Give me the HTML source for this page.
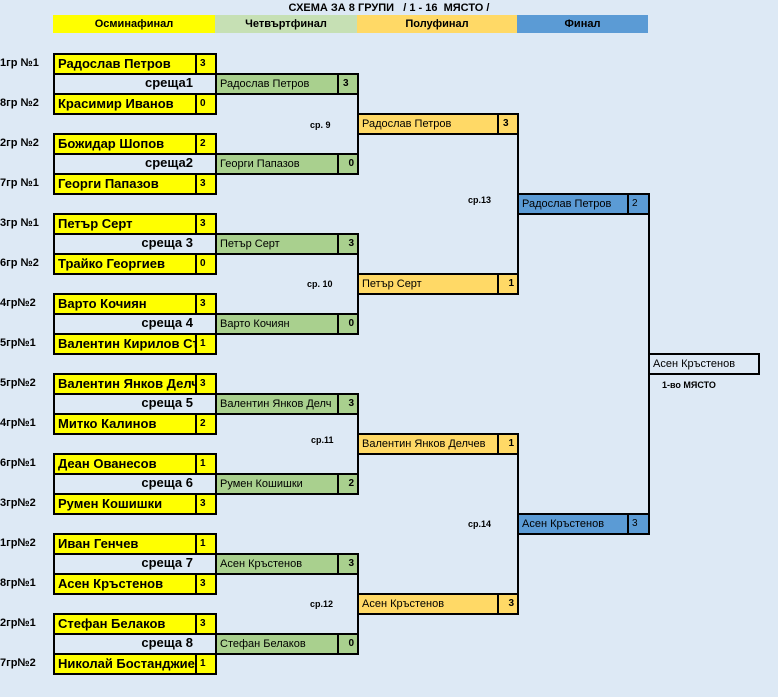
<!DOCTYPE html>
<html><head><meta charset="utf-8"><style>
html,body{margin:0;padding:0}
body{width:778px;height:697px;background:#dde9f5;position:relative;overflow:hidden;font-family:"Liberation Sans",Arial,sans-serif;}
.a{position:absolute;box-sizing:border-box}
.t{white-space:nowrap;overflow:hidden;line-height:18px}
.title{left:0;width:778px;top:1px;text-align:center;font-weight:bold;font-size:11px;line-height:14px}
.hd{top:15px;height:18px;font-weight:bold;font-size:11px;line-height:18px;text-align:center}
.lab{font-weight:bold;font-size:11px;left:3px;line-height:20px;height:20px}
.yn{background:#ffff00;border:2px solid #000;font-weight:bold;font-size:13px;padding-left:3px}
.ys{background:#ffff00;border:2px solid #000;border-left:none;font-weight:bold;font-size:10px;padding-left:3px}
.mid{font-weight:bold;font-size:13px;text-align:right;line-height:20px}
.n{border:2px solid #000;font-size:11px;padding-left:3px}
.s{border:2px solid #000;border-left:none;font-size:10px;font-weight:bold}
.v{background:#000;width:2px}
.sr{font-weight:bold;font-size:9px;line-height:12px}
</style></head><body>
<div class="a title">СХЕМА ЗА 8 ГРУПИ &nbsp; / 1 - 16 &nbsp;МЯСТО /</div>
<div class="a hd" style="left:53px;width:162px;background:#ffff00">Осминафинал</div>
<div class="a hd" style="left:215px;width:142px;background:#c6e0b4">Четвъртфинал</div>
<div class="a hd" style="left:357px;width:160px;background:#ffd966">Полуфинал</div>
<div class="a hd" style="left:517px;width:131px;background:#5b9bd5">Финал</div>
<div id="c"></div>
<script>
var H='';
function box(x,y,w,h,cls,txt,st){H+='<div class="a t '+cls+'" style="left:'+x+'px;top:'+y+'px;width:'+w+'px;height:'+h+'px;'+(st||'')+'">'+txt+'</div>';}
var r1=[
["1гр №1","Радослав Петров","3","8гр №2","Красимир Иванов","0","среща1"],
["2гр №2","Божидар Шопов","2","7гр №1","Георги Папазов","3","среща2"],
["3гр №1","Петър Серт","3","6гр №2","Трайко Георгиев","0","среща 3"],
["4гр№2","Варто Кочиян","3","5гр№1","Валентин Кирилов Ст","1","среща 4"],
["5гр№2","Валентин Янков Делч","3","4гр№1","Митко Калинов","2","среща 5"],
["6гр№1","Деан Ованесов","1","3гр№2","Румен Кошишки","3","среща 6"],
["1гр№2","Иван Генчев","1","8гр№1","Асен Кръстенов","3","среща 7"],
["2гр№1","Стефан Белаков","3","7гр№2","Николай Бостанджие","1","среща 8"]];
var qf=[["Радослав Петров","3"],["Георги Папазов","0"],["Петър Серт","3"],["Варто Кочиян","0"],["Валентин Янков Делч","3"],["Румен Кошишки","2"],["Асен Кръстенов","3"],["Стефан Белаков","0"]];
var sf=[["Радослав Петров","3"],["Петър Серт","1"],["Валентин Янков Делчев","1"],["Асен Кръстенов","3"]];
var fn=[["Радослав Петров","2"],["Асен Кръстенов","3"]];
for(var k=0;k<8;k++){var y=53+80*k,m=r1[k];
 box(0,y,53,20,'lab',m[0]);box(0,y+40,53,20,'lab',m[3]);
 box(53,y,144,22,'yn',m[1]);box(197,y,20,22,'ys',m[2]);
 box(53,y+40,144,22,'yn',m[4]);box(197,y+40,20,22,'ys',m[5]);
 H+='<div class="a v" style="left:53px;top:'+y+'px;height:62px"></div>';
 box(53,y+20,140,20,'mid',m[6]);
 var qy=73+80*k;
 box(215,qy,124,22,'n',qf[k][0],'background:#a9d08e');
 box(339,qy,20,22,'s',qf[k][1],'background:#a9d08e;text-align:'+(k<1?'left;padding-left:4px':'right;padding-right:3px'));
}
for(var j=0;j<4;j++){
 H+='<div class="a v" style="left:357px;top:'+(73+160*j)+'px;height:102px"></div>';
 var sy=113+160*j;
 box(357,sy,142,22,'n',sf[j][0],'background:#ffd966');
 box(499,sy,20,22,'s',sf[j][1],'background:#ffd966;text-align:'+(j<1?'left;padding-left:4px':'right;padding-right:3px'));
}
for(var i=0;i<2;i++){
 H+='<div class="a v" style="left:517px;top:'+(113+320*i)+'px;height:182px"></div>';
 var fy=193+320*i;
 box(517,fy,112,22,'n',fn[i][0],'background:#5b9bd5');
 box(629,fy,21,22,'s',fn[i][1],'background:#5b9bd5;font-weight:normal;padding-left:3px');
}
H+='<div class="a v" style="left:648px;top:193px;height:342px"></div>';
box(648,353,112,22,'n','Асен Кръстенов','');
box(662,378,80,14,'sr','1-во МЯСТО','font-size:9px;line-height:14px');
var lbl=[["ср. 9",310,119],["ср. 10",307,278],["ср.11",311,434],["ср.12",310,598],["ср.13",468,194],["ср.14",468,518]];
lbl.forEach(function(l){box(l[1],l[2],45,12,'sr',l[0],'line-height:12px');});
document.getElementById('c').innerHTML=H;
</script>
</body></html>
